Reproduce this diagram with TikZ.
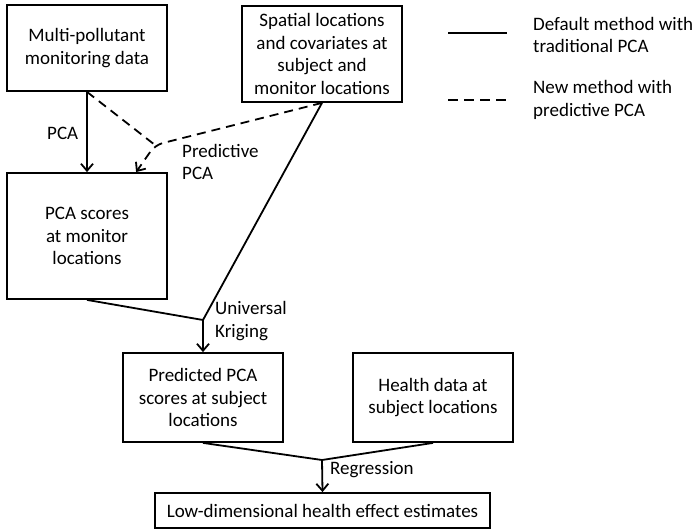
\documentclass[tikz,border=0pt]{standalone}
\usepackage{fontspec}
\setmainfont{Carlito}
\usetikzlibrary{arrows.meta}
\tikzset{
  >={Straight Barb[length=7pt,width=12pt]},
  box/.style={draw, line width=1.8pt, minimum width=160pt, align=center, inner sep=2pt},
  flow/.style={line width=1.8pt},
  pred/.style={line width=1.8pt, dash pattern=on 9pt off 6pt},
  lbl/.style={anchor=west, align=left, inner sep=0pt},
}
\begin{document}
\begin{tikzpicture}[x=1pt, y=-1pt, font=\fontsize{19}{22.5}\selectfont]
  \useasboundingbox (0,0) rectangle (698,530);

  \node[box, minimum height=86pt] (mon) at (87,48) {Multi-pollutant\\monitoring data};
  \node[box, minimum height=96pt] (spat) at (322,54) {Spatial locations\\and covariates at\\subject and\\monitor locations};
  \node[box, minimum height=126pt] (scores) at (87,236) {PCA scores\\at monitor\\locations};
  \node[box, minimum height=89pt] (predsc) at (203,397.5) {Predicted PCA\\scores at subject\\locations};
  \node[box, minimum height=89pt] (health) at (433,397.5) {Health data at\\subject locations};
  \node[box, minimum height=35pt, minimum width=335pt] (est) at (322.5,510.5) {Low-dimensional health effect estimates};

  \coordinate (bend) at (155,145);
  \coordinate (krig) at (203,320);
  \coordinate (regr) at (322,460);

  \draw[flow,->] (mon.south) -- (scores.north);
  \draw[pred] (mon.south) -- (bend);
  \draw[pred,->,rounded corners=8pt] (spat.south) -- (bend) -- ([xshift=130pt]scores.north west);
  \draw[flow] (scores.south) -- (krig) -- (spat.south);
  \draw[flow,->] (krig) -- (predsc.north);
  \draw[flow] (predsc.south) -- (regr) -- (health.south);
  \draw[flow,->] (regr) -- (est.north);

  \node[lbl] (pcalbl) at (47,133) {PCA};
  \node[lbl] (predlbl) at (182,162) {Predictive\\PCA};
  \node[lbl] (kriglbl) at (215,321) {Universal\\Kriging};
  \node[lbl] (reglbl) at (330,470) {Regression};

  \coordinate (solA) at (448,33);
  \coordinate (solB) at (507,33);
  \coordinate (dshA) at (448,100);
  \coordinate (dshB) at (507,100);
  \draw[flow] (solA) -- (solB);
  \draw[line width=1.8pt, dash pattern=on 10pt off 6pt] (dshA) -- (dshB);
  \node[lbl] (deflbl) at (533,35) {Default method with\\traditional PCA};
  \node[lbl] (newlbl) at (533,100) {New method with\\predictive PCA};
\end{tikzpicture}
\end{document}
